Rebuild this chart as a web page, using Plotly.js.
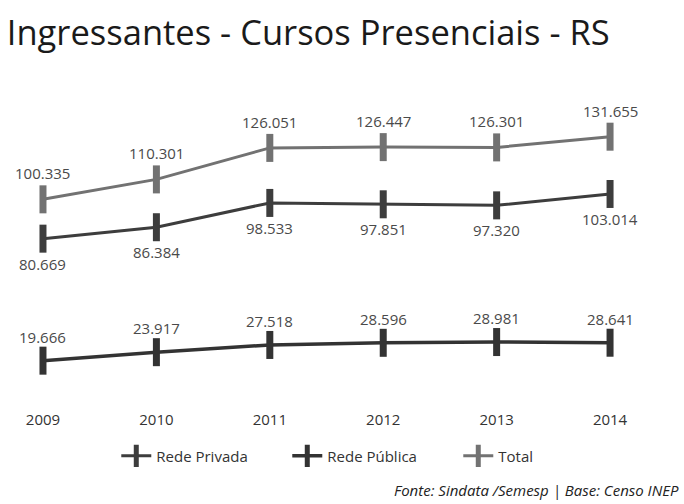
<!DOCTYPE html>
<html><head><meta charset="utf-8">
<script src="https://cdn.plot.ly/plotly-3.0.1.min.js"></script>
<style>html,body{margin:0;padding:0;background:#fff}#chart{width:684px;height:504px}</style>
</head><body><div id="chart"></div>
<script>
const years = [2009, 2010, 2011, 2012, 2013, 2014];
const yearLabels = ['2009', '2010', '2011', '2012', '2013', '2014'];
const redePrivada = [80669, 86384, 98533, 97851, 97320, 103014];
const redePublica = [19666, 23917, 27518, 28596, 28981, 28641];
const total = [100335, 110301, 126051, 126447, 126301, 131655];
const fmt = v => (v / 1000).toFixed(3);

const series = [
  {name: 'Rede Privada', y: redePrivada, color: '#3d3d3d', lw: 3, shift: -25},
  {name: 'Rede Pública', y: redePublica, color: '#333333', lw: 3.5, shift: 24},
  {name: 'Total', y: total, color: '#727272', lw: 3, shift: 26}
];

const traces = series.map(s => ({
  type: 'scatter', mode: 'lines+markers', name: s.name,
  x: years, y: s.y,
  line: {color: s.color, width: s.lw},
  marker: {symbol: 'line-ns-open', size: 20, color: s.color, line: {color: s.color, width: 7}},
  hoverinfo: 'skip'
}));

const annotations = [];
series.forEach(s => {
  s.y.forEach((v, i) => {
    annotations.push({x: years[i], y: v, xref: 'x', yref: 'y', text: fmt(v), showarrow: false,
      yshift: s.shift, font: {family: 'Open Sans', size: 15, color: '#4a4a4a'}});
  });
});
annotations.push({xref: 'paper', yref: 'paper', x: 0.995, y: -0.3, xanchor: 'right', yanchor: 'middle',
  text: '<i>Fonte: Sindata /Semesp | Base: Censo INEP</i>', showarrow: false,
  font: {family: 'Open Sans', size: 15, color: '#222'}});

const layout = {
  width: 684, height: 504,
  margin: {l: 0, r: 0, t: 100, b: 104},
  paper_bgcolor: '#fff', plot_bgcolor: '#fff',
  title: {text: 'Ingressantes - Cursos Presenciais - RS', x: 0.01, xanchor: 'left', y: 0.935, yanchor: 'middle',
    font: {family: 'Open Sans', size: 34.5, color: '#1a1a1a'}},
  xaxis: {range: [2008.621, 2014.652], tickvals: years, ticktext: yearLabels, showgrid: false, zeroline: false,
    showline: false, ticks: '', ticklabelstandoff: 9, tickfont: {family: 'Open Sans', size: 15, color: '#333'}, fixedrange: true},
  yaxis: {range: [0, 150000], visible: false, fixedrange: true},
  showlegend: true,
  legend: {orientation: 'h', x: 0.17, xanchor: 'left', y: -0.187, yanchor: 'middle', entrywidth: 126,
    font: {family: 'Open Sans', size: 15, color: '#333'}, itemclick: false},
  annotations: annotations
};

Plotly.newPlot('chart', traces, layout, {displayModeBar: false, staticPlot: true});
</script></body></html>
